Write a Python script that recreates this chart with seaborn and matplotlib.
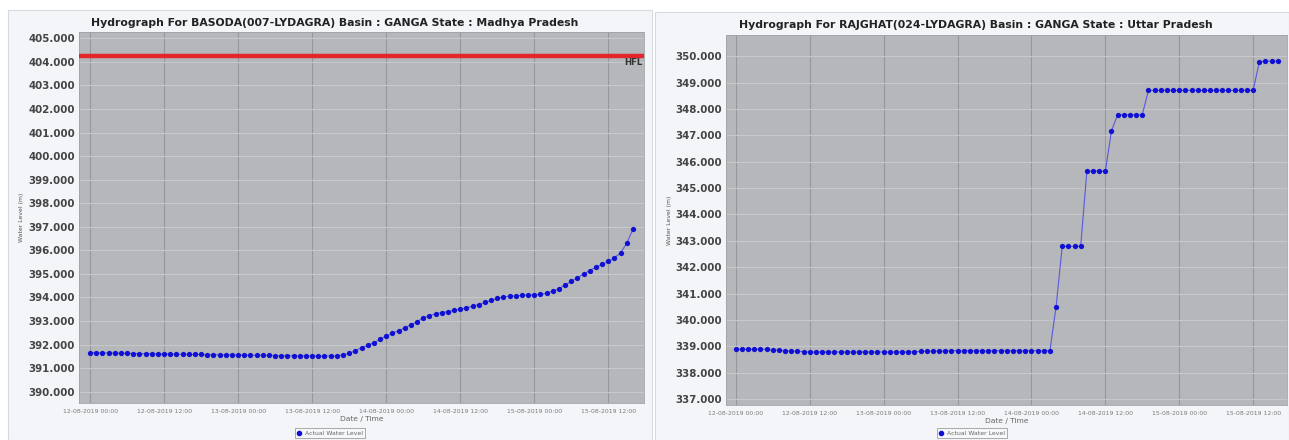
import numpy as np
import pandas as pd
import matplotlib
matplotlib.use('Agg')
import matplotlib.pyplot as plt
import matplotlib.dates as mdates
from matplotlib.lines import Line2D
from matplotlib.patches import Rectangle
import seaborn as sns

# hourly readings 12-08-2019 00:00 .. 15-08-2019 16:00
times = pd.date_range('2019-08-12 00:00', periods=89, freq='h')

basoda_level = [
    391.66, 391.65, 391.65, 391.64, 391.64, 391.63, 391.63, 391.62, 391.62, 391.61,
    391.61, 391.60, 391.60, 391.60, 391.59, 391.59, 391.58, 391.58, 391.58, 391.57,
    391.57, 391.56, 391.56, 391.56, 391.55, 391.55, 391.55, 391.54, 391.54, 391.54,
    391.53, 391.53, 391.53, 391.52, 391.52, 391.52, 391.52, 391.51, 391.51,
    391.51, 391.52, 391.56, 391.63, 391.74, 391.87, 391.97, 392.08, 392.22, 392.36,
    392.48, 392.59, 392.71, 392.84, 392.97, 393.13, 393.23, 393.30, 393.36, 393.40,
    393.45, 393.50, 393.56, 393.63, 393.70, 393.79, 393.88, 393.96, 394.02, 394.06,
    394.07, 394.09, 394.10, 394.11, 394.14, 394.17, 394.27, 394.37, 394.53, 394.68,
    394.83, 395.00, 395.14, 395.28, 395.41, 395.53, 395.67, 395.90, 396.30, 396.89,
]
basoda_hfl = 404.25

rajghat_level = [
    338.89, 338.89, 338.89, 338.89, 338.89, 338.89, 338.86, 338.86, 338.83, 338.82,
    338.82, 338.80, 338.79, 338.79, 338.79, 338.79, 338.79, 338.79, 338.79, 338.79,
    338.79, 338.79, 338.79, 338.79, 338.79, 338.79, 338.79, 338.79, 338.79, 338.80,
    338.81, 338.81, 338.82, 338.82, 338.83, 338.84, 338.84, 338.84, 338.84, 338.84,
    338.84, 338.84, 338.84, 338.84, 338.84, 338.84, 338.84, 338.84, 338.84, 338.84,
    338.84, 338.84, 340.50, 342.79, 342.79, 342.79, 342.79, 345.64, 345.64, 345.64,
    345.64, 347.17, 347.78, 347.78, 347.78, 347.78, 347.78, 348.70, 348.70, 348.70,
    348.70, 348.70, 348.70, 348.70, 348.70, 348.70, 348.70, 348.70, 348.70, 348.70,
    348.70, 348.70, 348.70, 348.70, 348.70, 349.77, 349.81, 349.81, 349.81,
]

titles = [
    'Hydrograph For BASODA(007-LYDAGRA) Basin : GANGA State : Madhya Pradesh',
    'Hydrograph For RAJGHAT(024-LYDAGRA) Basin : GANGA State : Uttar Pradesh',
]
y_ticks = [np.arange(390, 406), np.arange(337, 351)]
y_lims = [(389.52, 405.27), (336.78, 350.80)]
x_lims = [(-1.8, 89.8), (-1.6, 89.5)]

W, H = 1289, 440
fig = plt.figure(figsize=(W / 100, H / 100), dpi=100)
fig.patch.set_facecolor('white')

# panel boxes (pixels: x0, x1, y_top)
panels = [(8, 652, 10), (655, 1289, 12)]
for x0, x1, yt in panels:
    fig.patches.append(Rectangle((x0 / W, 0), (x1 - x0) / W, 1 - yt / H,
                                 transform=fig.transFigure, facecolor='#f3f5f8',
                                 edgecolor='#d5dadf', lw=0.8, zorder=-5))

# plot areas (pixels: left, right, top, bottom)
areas = [(79, 644, 32, 403), (726, 1287, 35, 405)]
title_x = [335, 976]
start = times[0]

for i, (l, r, t, b) in enumerate(areas):
    ax = fig.add_axes([l / W, 1 - b / H, (r - l) / W, (b - t) / H])
    ax.set_zorder(1)
    ax.set_facecolor('#b5b7ba')
    level = basoda_level if i == 0 else rajghat_level
    df = pd.DataFrame({'time': times, 'level': level})
    sns.lineplot(data=df, x='time', y='level', ax=ax, color='#5858e0', lw=0.8,
                 marker='o', markersize=3.8, markerfacecolor='#1010d4',
                 markeredgecolor='#1010d4', markeredgewidth=0)
    if i == 0:
        ax.axhline(basoda_hfl, color='#e3262c', lw=3.2, zorder=3)
        ax.text(0.997, basoda_hfl - 0.1, 'HFL', transform=ax.get_yaxis_transform(),
                ha='right', va='top', fontsize=6.2, fontweight='bold', color='#333333')
    ax.set_xlim(start + pd.Timedelta(hours=x_lims[i][0]),
                start + pd.Timedelta(hours=x_lims[i][1]))
    ax.set_ylim(*y_lims[i])
    ax.set_yticks(y_ticks[i])
    ax.yaxis.set_major_formatter(matplotlib.ticker.FormatStrFormatter('%.3f'))
    ax.xaxis.set_major_locator(mdates.HourLocator(byhour=[0, 12]))
    ax.xaxis.set_major_formatter(mdates.DateFormatter('%d-%m-%Y %H:%M'))
    ax.tick_params(axis='y', length=0, pad=3, labelsize=7.4, labelcolor='#444444')
    for lab in ax.get_yticklabels():
        lab.set_fontweight('bold')
    ax.tick_params(axis='x', length=0, pad=4, labelsize=4.4, labelcolor='#7a7a7a')
    ax.xaxis.grid(True, color='#95979a', lw=0.8)
    ax.yaxis.grid(True, color='#c6c8cb', lw=0.8)
    ax.set_axisbelow(True)
    for s in ax.spines.values():
        s.set_color('#a0a2a5')
        s.set_linewidth(0.6)
    ax.set_xlabel('Date / Time', fontsize=5.4, color='#666666', labelpad=2)
    ax.set_ylabel('')

    x0, x1, yt = panels[i]
    cx = (x0 + x1) / 2 / W
    fig.text(title_x[i] / W, 1 - (yt + 13) / H, titles[i], ha='center', va='center',
             fontsize=7.8, fontweight='bold', color='#222222')
    fig.text((l - 57) / W, 1 - (t + b) / 2 / H, 'Water Level (m)', rotation=90,
             ha='center', va='center', fontsize=4.4, color='#555555')
    handle = Line2D([], [], ls='none', marker='o', ms=3, color='#1010d4')
    leg = ax.legend([handle], ['Actual Water Level'], loc='center',
                    bbox_to_anchor=(cx, 1 - 433 / H), bbox_transform=fig.transFigure,
                    fontsize=4.4, frameon=True, fancybox=False, handlelength=0.8,
                    handletextpad=0.5, borderpad=0.4, labelcolor='#666666')
    leg.get_frame().set_edgecolor('#888888')
    leg.get_frame().set_linewidth(0.6)
    leg.get_frame().set_facecolor('#f7f8fa')

fig.savefig('out.png', dpi=100)
